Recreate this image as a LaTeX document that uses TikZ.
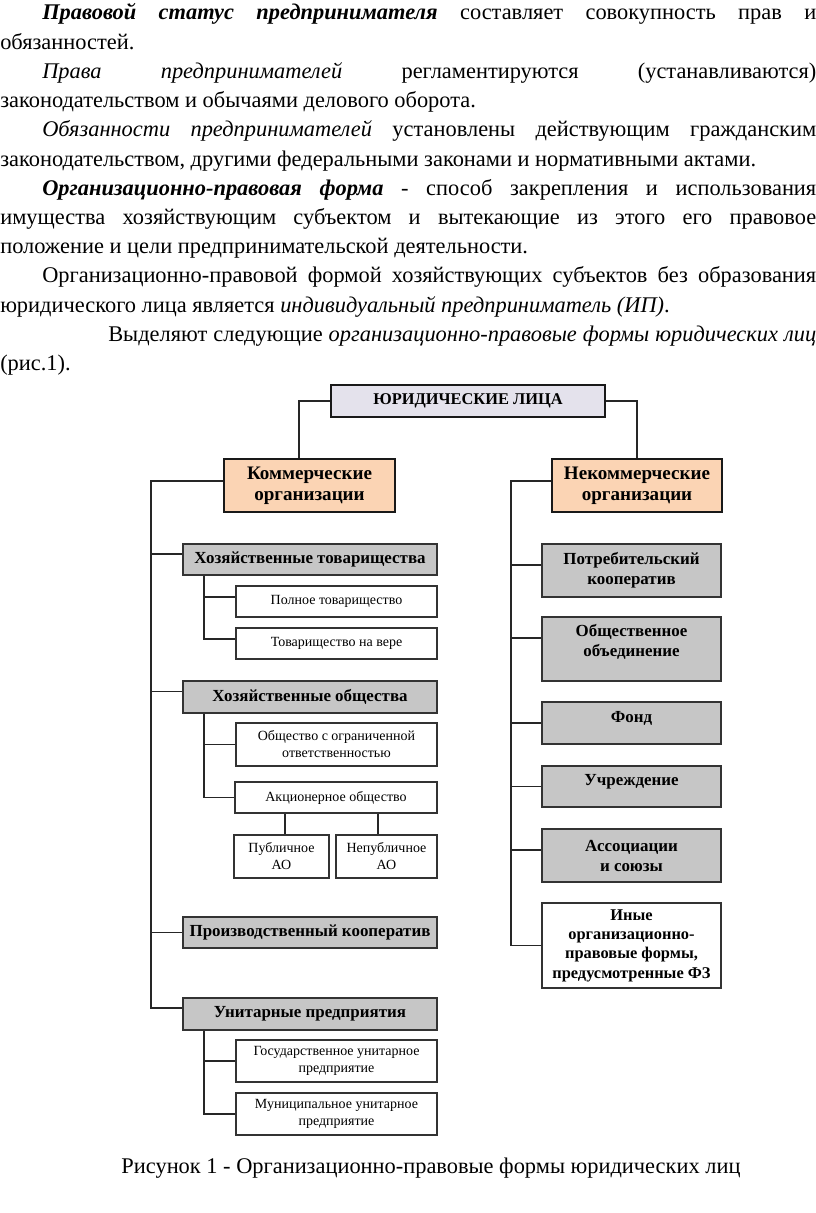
\documentclass[tikz,border=0pt]{standalone}
\usepackage{fontspec}
\setmainfont{Liberation Serif}
\usetikzlibrary{calc}
\definecolor{lav}{HTML}{E4E2EC}
\definecolor{peach}{HTML}{FBD4B4}
\definecolor{gbox}{HTML}{C6C6C6}
\newlength\pxu
\setlength\pxu{0.75pt}
\begin{document}
\begin{tikzpicture}[x=0.75pt,y=-0.75pt,
  sz/.style 2 args={minimum width=#1*0.75pt,minimum height=#2*0.75pt},
  conn/.style={draw=black!85,line width=1.1pt},
  topbox/.style={draw=black!90,line width=2.2pt,fill=lav,inner sep=0pt,font=\fontsize{12.3}{14}\selectfont\bfseries},
  catbox/.style={draw=black!90,line width=2.2pt,fill=peach,align=center,inner sep=0pt,font=\fontsize{14.3}{16}\selectfont\bfseries},
  grpbox/.style={draw=black!80,line width=1.3pt,fill=gbox,align=center,inner sep=0pt,font=\fontsize{12.7}{15}\selectfont\bfseries},
  othbox/.style={draw=black!80,line width=1.3pt,fill=white,align=center,inner sep=0pt,font=\fontsize{12.3}{14.5}\selectfont\bfseries},
  subbox/.style={draw=black!80,line width=1.3pt,fill=white,align=center,inner sep=0pt,font=\fontsize{10.5}{12.75}\selectfont},
  body/.style={anchor=base west,inner sep=0pt,font=\fontsize{16.8}{20}\selectfont},
]
\useasboundingbox (0,0) rectangle (816,1213);

% ---------- text ----------
\node[body] (t1) at (42,20) {\makebox[774\pxu][s]{\textbf{\textit{Правовой статус предпринимателя}} составляет совокупность прав и}};
\node[body] (t2) at (0,49.2) {обязанностей.};
\node[body] (t3) at (42,78.4) {\makebox[774\pxu][s]{\textit{Права предпринимателей} регламентируются (устанавливаются)}};
\node[body] (t4) at (0,107.6) {законодательством и обычаями делового оборота.};
\node[body] (t5) at (42,136.8) {\makebox[774\pxu][s]{\textit{Обязанности предпринимателей} установлены действующим гражданским}};
\node[body] (t6) at (0,166) {законодательством, другими федеральными законами и нормативными актами.};
\node[body] (t7) at (42,195.2) {\makebox[774\pxu][s]{\textbf{\textit{Организационно-правовая форма}} - способ закрепления и использования}};
\node[body] (t8) at (0,224.4) {\makebox[816\pxu][s]{имущества хозяйствующим субъектом и вытекающие из этого его правовое}};
\node[body] (t9) at (0,253.6) {положение и цели предпринимательской деятельности.};
\node[body] (t10) at (42,282.8) {\makebox[774\pxu][s]{Организационно-правовой формой хозяйствующих субъектов без образования}};
\node[body] (t11) at (0,312) {юридического лица является \textit{индивидуальный предприниматель (ИП)}.};
\node[body] (t12) at (108,341.2) {\makebox[708\pxu][s]{Выделяют следующие \textit{организационно-правовые формы юридических лиц}}};
\node[body] (t13) at (0,370.4) {(рис.1).};
\node[body,anchor=base] (cap) at (431,1173) {Рисунок 1 - Организационно-правовые формы юридических лиц};

% ---------- boxes ----------
\node[topbox,sz={274}{32}] (yl) at (468,401) {ЮРИДИЧЕСКИЕ ЛИЦА};
\node[catbox,sz={171}{53}] (kom) at (309.5,485.5) {Коммерческие\\организации};
\node[catbox,sz={170}{53}] (nekom) at (637,485.5) {Некоммерческие\\организации};

\node[grpbox,sz={254}{31}] (ht) at (310,559.5) {Хозяйственные товарищества};
\node[subbox,sz={201}{31}] (pt) at (336.5,601.5) {Полное товарищество};
\node[subbox,sz={201}{31}] (tv) at (336.5,643.5) {Товарищество на вере};
\node[grpbox,sz={254}{32}] (ho) at (310,697) {Хозяйственные общества};
\node[subbox,sz={201}{43}] (ooo) at (336.5,744.5) {Общество с ограниченной\\ответственностью};
\node[subbox,sz={202}{31}] (ao) at (336,797.5) {Акционерное общество};
\node[subbox,sz={95}{43}] (pao) at (281.5,856.5) {Публичное\\АО};
\node[subbox,sz={101}{43}] (npao) at (386.5,856.5) {Непубличное\\АО};
\node[grpbox,sz={254}{31}] (pk) at (310,932.5) {Производственный кооператив};
\node[grpbox,sz={254}{32}] (up) at (310,1014) {Унитарные предприятия};
\node[subbox,sz={201}{42}] (gup) at (336.5,1061) {Государственное унитарное\\предприятие};
\node[subbox,sz={201}{42}] (mup) at (336.5,1114) {Муниципальное унитарное\\предприятие};

\node[grpbox,sz={179}{53}] (potr) at (631.5,570.5) {Потребительский\\кооператив};
\node[grpbox,sz={179}{64},text depth=12.8pt] (obsh) at (631.5,649) {Общественное\\объединение};
\node[grpbox,sz={179}{42},text depth=8.8pt] (fond) at (631.5,723) {Фонд};
\node[grpbox,sz={179}{41},text depth=10.3pt] (uchr) at (631.5,786.5) {Учреждение};
\node[grpbox,sz={179}{53}] (assoc) at (631.5,855.5) {Ассоциации\\и союзы};
\node[othbox,sz={179}{85}] (inye) at (631.5,945.5) {Иные\\организационно-\\правовые формы,\\предусмотренные ФЗ};

% ---------- connectors ----------
\coordinate (kx) at (299,0);
\coordinate (ltr) at (151,0);
\coordinate (lsub) at (204,0);
\coordinate (rtr) at (511,0);
\coordinate (a1) at (285,0);
\coordinate (a2) at (378,0);

\draw[conn] (yl.west) -| (kom.north -| kx);
\draw[conn] (yl.east) -| (nekom.north);

\draw[conn] ([yshift=3.4pt]kom.west) -| ([yshift=4.5pt]up.west -| ltr) -- ([yshift=4.5pt]up.west);
\draw[conn] ([yshift=4pt]ht.west -| ltr) -- ([yshift=4pt]ht.west);
\draw[conn] ([yshift=4pt]ho.west -| ltr) -- ([yshift=4pt]ho.west);
\draw[conn] (pk.west -| ltr) -- (pk.west);

\draw[conn] (ht.south -| lsub) |- ([yshift=3.4pt]tv.west);
\draw[conn] ([yshift=3.4pt]pt.west -| lsub) -- ([yshift=3.4pt]pt.west);
\draw[conn] (ho.south -| lsub) |- (ao.west);
\draw[conn] (ooo.west -| lsub) -- (ooo.west);
\draw[conn] (ao.south -| a1) -- (pao.north -| a1);
\draw[conn] (ao.south -| a2) -- (npao.north -| a2);
\draw[conn] (up.south -| lsub) |- (mup.west);
\draw[conn] (gup.west -| lsub) -- (gup.west);

\draw[conn] ([yshift=3.4pt]nekom.west) -| (inye.west -| rtr) -- (inye.west);
\draw[conn] ([yshift=4pt]potr.west -| rtr) -- ([yshift=4pt]potr.west);
\draw[conn] ([yshift=8.2pt]obsh.west -| rtr) -- ([yshift=8.2pt]obsh.west);
\draw[conn] (fond.west -| rtr) -- (fond.west);
\draw[conn] (uchr.west -| rtr) -- (uchr.west);
\draw[conn] ([yshift=4pt]assoc.west -| rtr) -- ([yshift=4pt]assoc.west);
\end{tikzpicture}
\end{document}
